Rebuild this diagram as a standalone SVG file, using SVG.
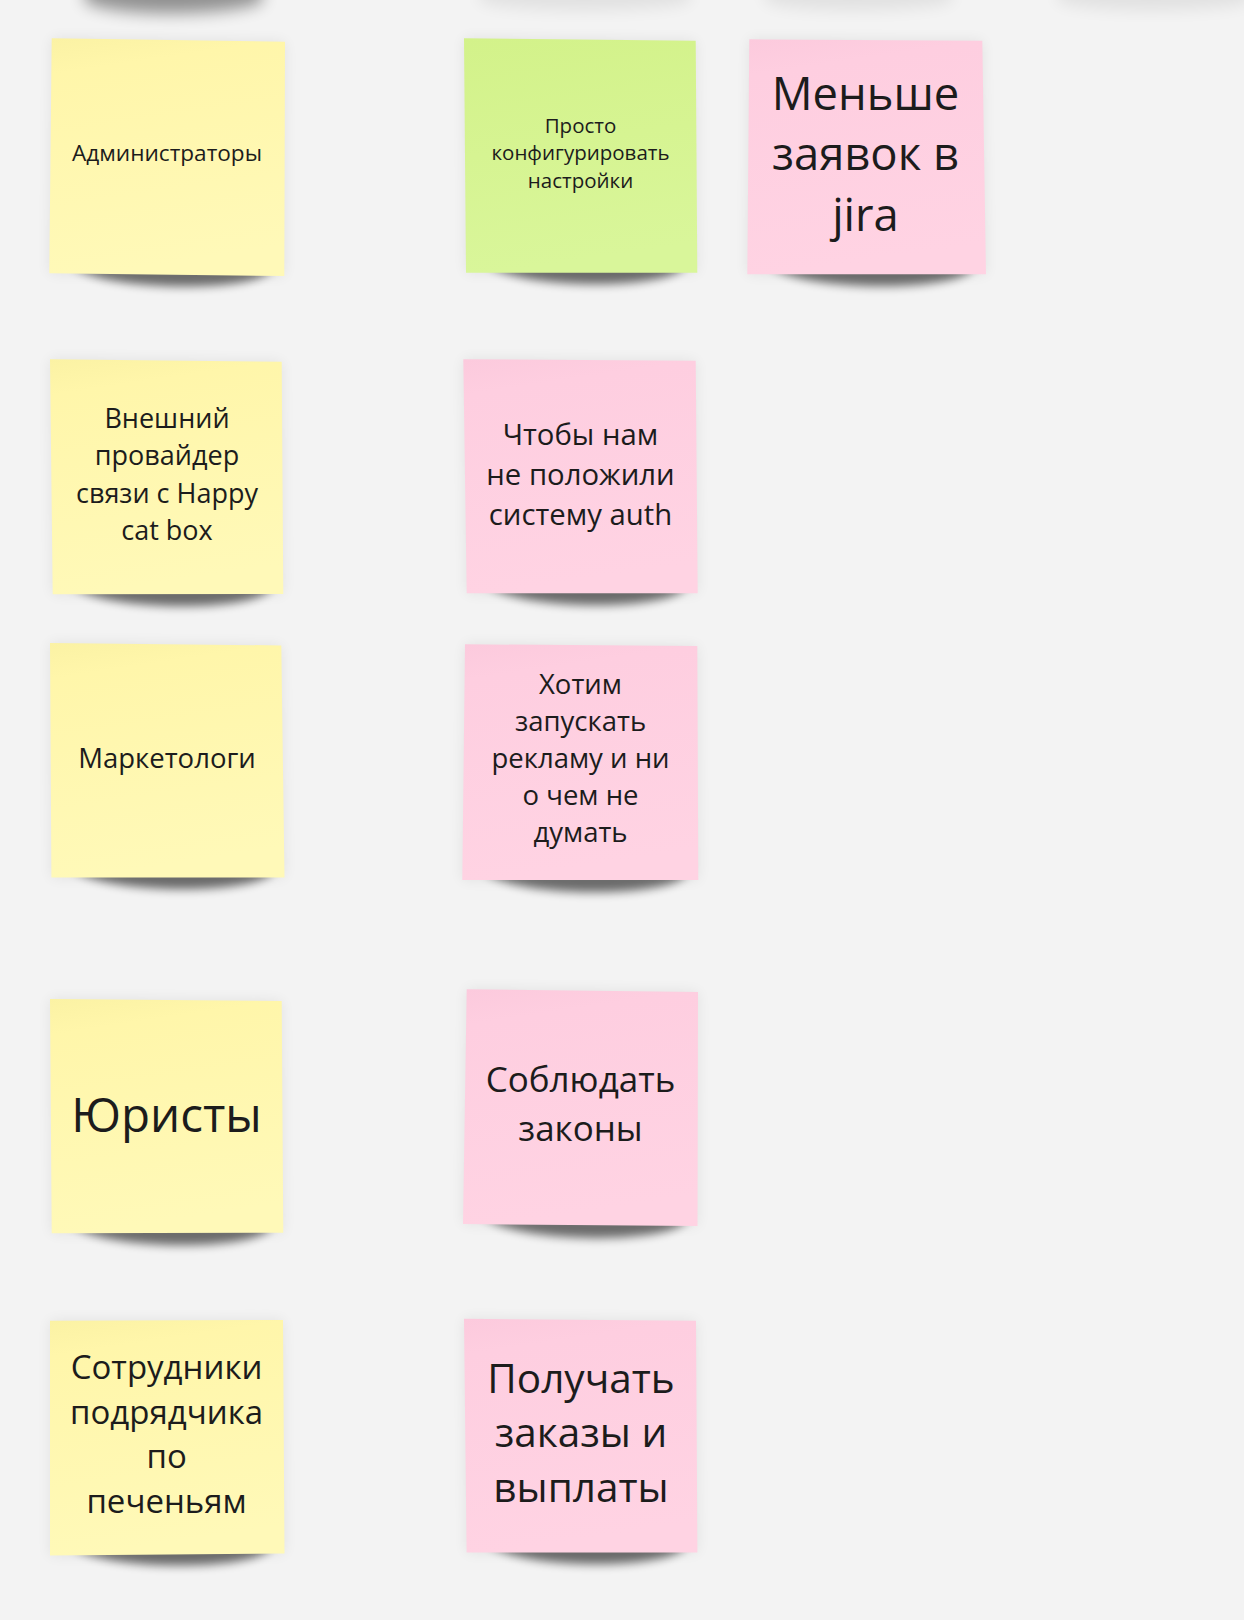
<svg xmlns="http://www.w3.org/2000/svg" width="1244" height="1620" viewBox="0 0 1244 1620">
<defs>
<style>
.t{font-family:"Open Sans","Noto Sans","DejaVu Sans",sans-serif;fill:#1c1c1c;text-anchor:middle}
.sh{fill:#000;opacity:0.55;filter:url(#blur)}
.halo{fill:#000;opacity:0.07;filter:url(#blur2)}
.y{fill:url(#gy)}
.g{fill:url(#gg)}
.p{fill:url(#gp)}
</style>
<filter id="blur" x="-20%" y="-100%" width="140%" height="300%"><feGaussianBlur stdDeviation="5"/></filter>
<filter id="blur2" x="-20%" y="-20%" width="140%" height="140%"><feGaussianBlur stdDeviation="7"/></filter>
<filter id="blur3" x="-20%" y="-100%" width="140%" height="300%"><feGaussianBlur stdDeviation="8"/></filter>
<linearGradient id="gy" x1="0" y1="0" x2="0.15" y2="1"><stop offset="0" stop-color="#fbf2a4"/><stop offset="0.15" stop-color="#fff6aa"/><stop offset="1" stop-color="#fff9b8"/></linearGradient>
<linearGradient id="gg" x1="0" y1="0" x2="0.15" y2="1"><stop offset="0" stop-color="#d3f28a"/><stop offset="1" stop-color="#d9f69a"/></linearGradient>
<linearGradient id="gp" x1="0" y1="0" x2="0.15" y2="1"><stop offset="0" stop-color="#fccadd"/><stop offset="0.15" stop-color="#fecee0"/><stop offset="1" stop-color="#ffd3e3"/></linearGradient>
</defs>
<rect x="0" y="0" width="1244" height="1620" fill="#f3f3f3"/>
<g id="top-shadows">
<path d="M85,-30 L262,-30 L262,2 C230,16 120,18 85,2 Z" fill="#000" opacity="0.4" filter="url(#blur3)"/>
<path d="M480,-30 L690,-30 L690,2 C660,12 520,14 480,2 Z" fill="#000" opacity="0.07" filter="url(#blur3)"/>
<path d="M765,-30 L952,-30 L952,2 C920,12 800,14 765,2 Z" fill="#000" opacity="0.07" filter="url(#blur3)"/>
<path d="M1058,-30 L1250,-30 L1250,2 C1220,12 1100,14 1058,2 Z" fill="#000" opacity="0.07" filter="url(#blur3)"/>
</g>
<g id="connectors"></g>
<g id="note-admins">
<polygon class="halo" points="51.7,38.3 285,41.7 284.3,276 49.3,273.3"/>
<path class="sh" d="M72,266 L272,268 C266,292 110,294 72,266 Z"/>
<polygon class="y" points="51.7,38.3 285,41.7 284.3,276 49.3,273.3"/>
<text class="t" x="167" y="160.8" font-size="22.6">Администраторы</text>
</g>
<g id="note-config">
<polygon class="halo" points="464,38.3 695.7,40.7 697.3,272.7 466,272.7"/>
<path class="sh" d="M487,264 L685,264 C679,290 525,292 487,264 Z"/>
<polygon class="g" points="464,38.3 695.7,40.7 697.3,272.7 466,272.7"/>
<text class="t" font-size="20.5"><tspan x="580.5" y="132.8">Просто</tspan><tspan x="580.5" y="160">конфигурировать</tspan><tspan x="580.5" y="187.7">настройки</tspan></text>
</g>
<g id="note-jira">
<polygon class="halo" points="749.3,39.3 982.3,40.7 986,274.3 747.3,274.3"/>
<path class="sh" d="M770,266 L974,266 C968,292 808,294 770,266 Z"/>
<polygon class="p" points="749.3,39.3 982.3,40.7 986,274.3 747.3,274.3"/>
<text class="t" font-size="45.4"><tspan x="865.5" y="110">Меньше</tspan><tspan x="865.5" y="169.5">заявок в</tspan><tspan x="865.5" y="231">jira</tspan></text>
</g>
<g id="note-provider">
<polygon class="halo" points="50,359.3 281.7,361.7 283.3,594 52.7,594.3"/>
<path class="sh" d="M72,586 L272,586 C266,612 110,614 72,586 Z"/>
<polygon class="y" points="50,359.3 281.7,361.7 283.3,594 52.7,594.3"/>
<text class="t" font-size="27"><tspan x="167" y="427.5">Внешний</tspan><tspan x="167" y="465">провайдер</tspan><tspan x="167" y="502.5">связи с Happy</tspan><tspan x="167" y="540">cat box</tspan></text>
</g>
<g id="note-auth">
<polygon class="halo" points="463.3,359.3 695.7,360.7 697.7,593.3 466.7,593.3"/>
<path class="sh" d="M487,585 L686,585 C680,611 525,613 487,585 Z"/>
<polygon class="p" points="463.3,359.3 695.7,360.7 697.7,593.3 466.7,593.3"/>
<text class="t" font-size="29.3"><tspan x="580.5" y="445">Чтобы нам</tspan><tspan x="580.5" y="485">не положили</tspan><tspan x="580.5" y="525">систему auth</tspan></text>
</g>
<g id="note-marketers">
<polygon class="halo" points="50,642.9 281.3,645.4 284.5,877.5 51.4,877.5"/>
<path class="sh" d="M72,869 L274,869 C268,895 110,897 72,869 Z"/>
<polygon class="y" points="50,642.9 281.3,645.4 284.5,877.5 51.4,877.5"/>
<text class="t" x="167" y="767.5" font-size="27.5">Маркетологи</text>
</g>
<g id="note-ads">
<polygon class="halo" points="465,644.3 697.3,646 698.3,880 462.3,880"/>
<path class="sh" d="M484,872 L687,872 C681,898 522,900 484,872 Z"/>
<polygon class="p" points="465,644.3 697.3,646 698.3,880 462.3,880"/>
<text class="t" font-size="27.5"><tspan x="580.5" y="694">Хотим</tspan><tspan x="580.5" y="730.5">запускать</tspan><tspan x="580.5" y="767.5">рекламу и ни</tspan><tspan x="580.5" y="804.5">о чем не</tspan><tspan x="580.5" y="841.5">думать</tspan></text>
</g>
<g id="note-lawyers">
<polygon class="halo" points="50,999 281.7,1001 283.3,1232.7 51.7,1233.3"/>
<path class="sh" d="M72,1225 L272,1225 C266,1251 110,1253 72,1225 Z"/>
<polygon class="y" points="50,999 281.7,1001 283.3,1232.7 51.7,1233.3"/>
<text class="t" x="166.5" y="1131.7" font-size="47.5">Юристы</text>
</g>
<g id="note-laws">
<polygon class="halo" points="466.7,989.3 698,992 697.5,1226 463,1224"/>
<path class="sh" d="M484,1217 L687,1218 C681,1244 522,1246 484,1217 Z"/>
<polygon class="p" points="466.7,989.3 698,992 697.5,1226 463,1224"/>
<text class="t" font-size="35"><tspan x="580.5" y="1092.3">Соблюдать</tspan><tspan x="580.5" y="1141">законы</tspan></text>
</g>
<g id="note-contractors">
<polygon class="halo" points="50,1320.8 283,1320 284.5,1553.5 50,1555.5"/>
<path class="sh" d="M72,1547 L272,1545 C266,1571 110,1573 72,1547 Z"/>
<polygon class="y" points="50,1320.8 283,1320 284.5,1553.5 50,1555.5"/>
<text class="t" font-size="33"><tspan x="166.6" y="1379">Сотрудники</tspan><tspan x="166.6" y="1424">подрядчика</tspan><tspan x="166.6" y="1467.7">по</tspan><tspan x="166.6" y="1512.6">печеньям</tspan></text>
</g>
<g id="note-payments">
<polygon class="halo" points="464,1318.8 696,1320.8 697.4,1552.6 466.6,1552.6"/>
<path class="sh" d="M488,1544 L686,1544 C680,1570 526,1572 488,1544 Z"/>
<polygon class="p" points="464,1318.8 696,1320.8 697.4,1552.6 466.6,1552.6"/>
<text class="t" font-size="40.5"><tspan x="581" y="1393">Получать</tspan><tspan x="581" y="1446.5">заказы и</tspan><tspan x="581" y="1502.4">выплаты</tspan></text>
</g>
</svg>
